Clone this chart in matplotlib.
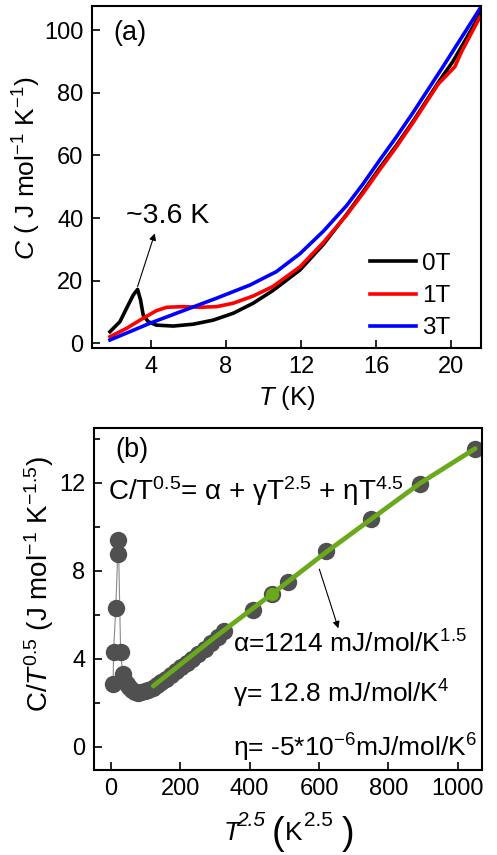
import matplotlib
matplotlib.use("Agg")
import matplotlib.pyplot as plt
from matplotlib.ticker import MultipleLocator

plt.rcParams["font.family"] = ["Liberation Sans", "DejaVu Sans"]
plt.rcParams["mathtext.fontset"] = "custom"
plt.rcParams["mathtext.rm"] = "Liberation Sans"
plt.rcParams["mathtext.it"] = "Liberation Sans:italic"
plt.rcParams["mathtext.bf"] = "Liberation Sans:bold"
plt.rcParams["axes.linewidth"] = 1.5

# (a) C vs T for three fields
t_0T = [1.83, 2.36, 2.8, 3.07, 3.3, 3.46, 3.6, 3.87, 4.3, 5.2, 6.27, 7.33, 8.4,
        9.46, 10.5, 11.95, 13.2, 14.44, 15.3, 16.2, 17.1, 17.99, 19.4, 20.1,
        20.8, 21.54]
c_0T = [3.7, 6.9, 12.2, 15.4, 17.2, 13.8, 9.0, 6.9, 5.8, 5.5, 6.1, 7.4, 9.6,
        12.8, 16.8, 23.4, 31.6, 41.2, 48.3, 56.0, 63.3, 71.0, 84.0, 90.0,
        97.2, 105.0]
t_1T = [1.83, 2.72, 3.6, 4.3, 4.85, 5.73, 6.62, 7.51, 8.4, 9.46, 10.5, 11.95,
        13.2, 14.44, 15.3, 16.2, 17.1, 17.99, 19.32, 20.2, 20.56, 21.54]
c_1T = [2.1, 4.8, 8.0, 10.4, 11.5, 11.7, 11.5, 11.7, 12.8, 15.1, 18.1, 24.4,
        32.2, 41.0, 47.8, 55.4, 62.8, 70.6, 82.8, 88.3, 93.1, 104.2]
t_3T = [1.83, 3.96, 5.73, 7.51, 9.29, 10.7, 11.95, 13.2, 14.44, 15.3, 16.2,
        17.1, 17.99, 19.6, 21.54]
c_3T = [1.05, 6.4, 10.4, 14.4, 18.6, 22.9, 28.6, 35.8, 44.0, 50.8, 58.5,
        66.0, 73.8, 88.6, 106.9]

# (b) C/T^0.5 vs T^2.5 (0T data) and linear-region fit
b_x = [6.5, 7.5, 14.0, 19.5, 21.5, 28.0, 34.0, 38, 45, 52, 60, 68, 77, 87, 97,
       108, 120, 132, 145, 158, 172, 187, 202, 218, 235, 252, 270, 289, 309,
       327, 410, 465, 510, 620, 750, 890, 1050]
b_y = [2.85, 4.3, 6.3, 8.75, 9.4, 4.3, 3.3, 3.05, 2.85, 2.7, 2.58, 2.5, 2.46,
       2.47, 2.52, 2.58, 2.67, 2.8, 2.95, 3.08, 3.24, 3.42, 3.6, 3.8, 4.0, 4.22,
       4.45, 4.7, 4.98, 5.25, 6.22, 6.93, 7.5, 8.88, 10.35, 11.95, 13.55]
fit_x = [122, 300, 465, 622, 891, 1050]
fit_y = [2.76, 4.98, 6.95, 8.86, 11.97, 13.55]
mark_x = [465]
mark_y = [6.93]

W, H = 497, 855
fig = plt.figure(figsize=(W / 100, H / 100), dpi=100)
ax1 = fig.add_axes([0.185, 0.593, 0.783, 0.400])
ax2 = fig.add_axes([0.189, 0.0994, 0.781, 0.4004])


def figxy(px, py):
    # pixel position in the 497x855 image -> figure fraction
    return px / W, 1 - py / H


# ---- panel (a)
for t, c, col, lab in [(t_0T, c_0T, "black", "0T"),
                       (t_1T, c_1T, "#ff0000", "1T"),
                       (t_3T, c_3T, "#0000ff", "3T")]:
    ax1.plot(t, c, color=col, lw=2.6, label=lab, solid_joinstyle="round")
ax1.set_xlim(0.87, 21.6)
ax1.set_ylim(-1.5, 107.7)
ax1.set_xticks([4, 8, 12, 16, 20])
ax1.yaxis.set_major_locator(MultipleLocator(20))
ax1.tick_params(direction="in", length=6, width=1.2, labelsize=17, pad=6)
ax1.set_xlabel(r"$\mathit{T}$ (K)", fontsize=18.5)
ax1.set_ylabel(r"$\mathit{C}$ ( J mol$^{-1}$ K$^{-1}$)", fontsize=19)
ax1.xaxis.set_label_coords(0.5, -0.105)
ax1.yaxis.set_label_coords(-0.125, 0.526)
ax1.text(0.054, 0.921, "(a)", transform=ax1.transAxes, fontsize=19.5,
         va="center", ha="left")
ax1.annotate("", xy=(4.22, 35.1), xytext=(3.3, 18.1),
             arrowprops=dict(arrowstyle="-|>", color="black", lw=0.8,
                             mutation_scale=10, shrinkA=0, shrinkB=0))
ax1.text(0.087, 0.386, "~3.6 K", transform=ax1.transAxes, fontsize=20.5,
         va="center", ha="left")
ax1.legend(loc="lower left", bbox_to_anchor=(0.715, 0.025), frameon=False,
           fontsize=17.5, handlelength=1.9, handletextpad=0.25,
           labelspacing=0.42, borderpad=0, borderaxespad=0)

# ---- panel (b)
ax2.plot(b_x, b_y, color="#8a8a8a", lw=0.8, zorder=1)
ax2.plot(b_x, b_y, "o", color="#505050", ms=11.5, mec="#505050", zorder=2)
ax2.plot(fit_x, fit_y, color="#6aa81c", lw=3.4, zorder=3,
         solid_capstyle="round")
ax2.plot(mark_x, mark_y, "o", color="#6aa81c", ms=8.5, zorder=4)
ax2.set_xlim(-49, 1070)
ax2.set_ylim(-1.06, 14.5)
ax2.xaxis.set_major_locator(MultipleLocator(200))
ax2.yaxis.set_major_locator(MultipleLocator(4))
ax2.yaxis.set_minor_locator(MultipleLocator(2))
ax2.tick_params(which="both", direction="in", width=1.2, labelsize=17, pad=6)
ax2.tick_params(which="major", length=6)
ax2.tick_params(which="minor", length=4)
ax2.set_ylabel(r"C/$\mathit{T}^{0.5}$ (J mol$^{-1}$ K$^{-1.5}$)", fontsize=20)
ax2.yaxis.set_label_coords(-0.098, 0.543)

# x label of (b) built from pieces: big superscripts and tall parentheses
fig.text(*figxy(224, 840), "T", fontsize=19, style="italic",
         ha="left", va="baseline")
fig.text(*figxy(236, 826), "2.5", fontsize=15, style="italic",
         ha="left", va="baseline")
fig.text(*figxy(272, 843.5), "(", fontsize=27, ha="left", va="baseline")
fig.text(*figxy(285, 840), "K", fontsize=19, ha="left", va="baseline")
fig.text(*figxy(304, 826), "2.5", fontsize=15, ha="left", va="baseline")
fig.text(*figxy(342, 843.5), ")", fontsize=27, ha="left", va="baseline")

ax2.text(0.054, 0.935, "(b)", transform=ax2.transAxes, fontsize=19.5,
         va="center", ha="left")
ax2.text(0.036, 0.789, r"C/T$^{0.5}$= α + γT$^{2.5}$ + ηT$^{4.5}$",
         transform=ax2.transAxes, fontsize=20, va="baseline", ha="left")
ax2.annotate("", xy=(655.6, 5.38), xytext=(600.8, 8.07),
             arrowprops=dict(arrowstyle="-|>", color="black", lw=0.8,
                             mutation_scale=10, shrinkA=0, shrinkB=0))
ax2.text(0.358, 0.342, r"α=1214 mJ/mol/K$^{1.5}$", transform=ax2.transAxes,
         fontsize=19, va="baseline", ha="left")
ax2.text(0.358, 0.198, r"γ= 12.8 mJ/mol/K$^{4}$", transform=ax2.transAxes,
         fontsize=19, va="baseline", ha="left")
ax2.text(0.358, 0.038, r"η= -5*10$^{-6}$mJ/mol/K$^{6}$", transform=ax2.transAxes,
         fontsize=19, va="baseline", ha="left")

fig.savefig("out.png", dpi=100)
